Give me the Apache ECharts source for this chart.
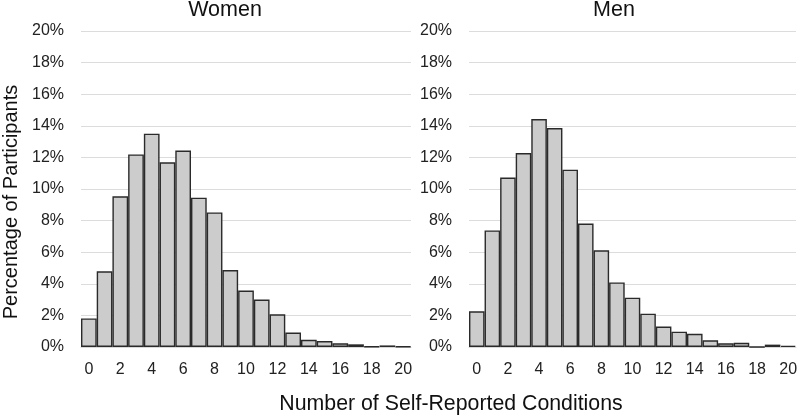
<!DOCTYPE html>
<html>
<head>
<meta charset="utf-8">
<script src="https://cdn.jsdelivr.net/npm/echarts@6/dist/echarts.min.js"></script>
<style>html,body{margin:0;padding:0;background:#fff}#c{width:800px;height:417px}</style>
</head>
<body>
<div id="c"></div>
<script>
const categories = ['0','1','2','3','4','5','6','7','8','9','10','11','12','13','14','15','16','17','18','19','20'];
const women = [1.81,4.79,9.54,12.19,13.5,11.69,12.43,9.45,8.52,4.87,3.57,3.0,2.07,0.91,0.46,0.38,0.23,0.17,0.04,0.1,0.04];
const men = [2.26,7.38,10.72,12.28,14.43,13.86,11.22,7.81,6.12,4.09,3.12,2.11,1.29,0.97,0.84,0.42,0.23,0.27,0,0.15,0.08];
const panelTitles = ['Women','Men'];
const yTitle = 'Percentage of Participants';
const xTitle = 'Number of Self-Reported Conditions';

const font = 'Liberation Sans, Arial, sans-serif';
const tickFont = 'Liberation Sans Narrow, Liberation Sans, Arial, sans-serif';
const chart = echarts.init(document.getElementById('c'));
const grids = [
  {left:81, top:31, width:330, height:316},
  {left:469, top:31, width:330, height:316}
];
function xAxis(i){return {
  type:'category', gridIndex:i, data:categories,
  axisLine:{show:true,lineStyle:{color:'#d9d9d9'}}, axisTick:{show:false},
  axisLabel:{interval:1, color:'#222', fontSize:16, fontFamily:tickFont, margin:15}
};}
function yAxis(i){return {
  type:'value', gridIndex:i, min:0, max:20, interval:2,
  axisLine:{show:false}, axisTick:{show:false},
  splitLine:{lineStyle:{color:'#dcdcdc', width:1}},
  axisLabel:{formatter:'{value}%', color:'#222', fontSize:16, fontFamily:tickFont, margin:17}
};}
function bar(i,d){return {
  type:'bar', xAxisIndex:i, yAxisIndex:i, data:d, barCategoryGap:'0%',
  itemStyle:{color:'#cccccc', borderColor:'#2a2a2a', borderWidth:1.4},
  silent:true
};}
chart.setOption({
  animation:false,
  backgroundColor:'#fff',
  grid:grids,
  xAxis:[xAxis(0),xAxis(1)],
  yAxis:[yAxis(0),yAxis(1)],
  series:[bar(0,women),bar(1,men)],
  graphic:[
    {type:'text', x:225, y:10.5, style:{text:panelTitles[0], fontSize:21.5, fontFamily:font, fill:'#111', align:'center', verticalAlign:'middle'}},
    {type:'text', x:614, y:10.5, style:{text:panelTitles[1], fontSize:21.5, fontFamily:font, fill:'#111', align:'center', verticalAlign:'middle'}},
    {type:'text', x:451, y:404, style:{text:xTitle, fontSize:21.3, fontFamily:font, fill:'#111', align:'center', verticalAlign:'middle'}},
    {type:'text', x:11, y:202, rotation:Math.PI/2, style:{text:yTitle, fontSize:20, fontFamily:font, fill:'#111', align:'center', verticalAlign:'middle'}}
  ]
});
</script>
</body>
</html>
